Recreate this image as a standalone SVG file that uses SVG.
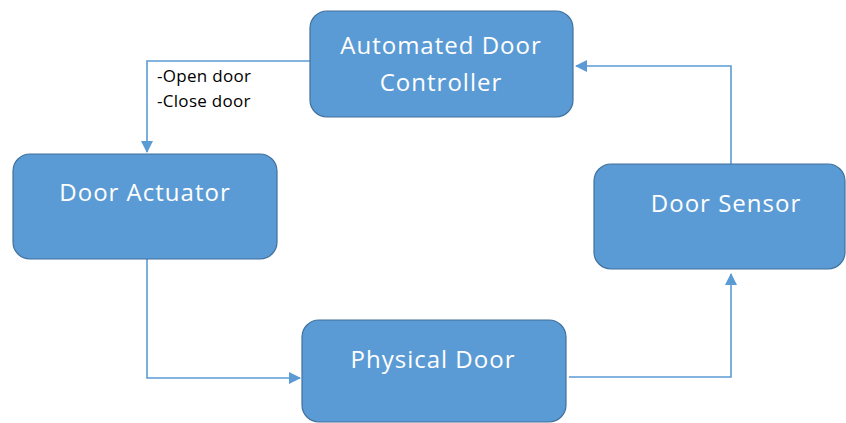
<svg xmlns="http://www.w3.org/2000/svg" width="846" height="423" viewBox="0 0 846 423">
  <style>
    .box { fill: #5B9BD5; stroke: #41719C; stroke-width: 1.2; }
    .label { font-family: "Open Sans", Lato, sans-serif; font-size: 24px; letter-spacing: 1px; fill: #FFFFFF; text-anchor: middle; }
    .note { font-family: "Open Sans", Lato, sans-serif; font-size: 17px; letter-spacing: 0.3px; fill: #000000; }
    .link { fill: none; stroke: #5B9BD5; stroke-width: 1.6; }
  </style>
  <defs>
    <marker id="arrow" viewBox="0 0 12 12" refX="11" refY="6" markerWidth="12" markerHeight="12" markerUnits="userSpaceOnUse" orient="auto">
      <path d="M0,0 L12,6 L0,12 Z" fill="#5B9BD5"/>
    </marker>
  </defs>
  <rect width="846" height="423" fill="#FFFFFF"/>

  <g id="connectors">
    <!-- Controller -> Actuator -->
    <polyline class="link" points="310,61 147,61 147,152" marker-end="url(#arrow)"/>
    <!-- Actuator -> Physical Door -->
    <polyline class="link" points="147,259 147,378 300,378" marker-end="url(#arrow)"/>
    <!-- Physical Door -> Sensor -->
    <polyline class="link" points="569,377 731,377 731,274" marker-end="url(#arrow)"/>
    <!-- Sensor -> Controller -->
    <polyline class="link" points="731,164 731,66 576,66" marker-end="url(#arrow)"/>
  </g>

  <g id="controller">
    <rect class="box" x="310" y="11" width="263" height="106" rx="17"/>
    <text class="label" x="441" y="54">Automated Door</text>
    <text class="label" x="441" y="91">Controller</text>
  </g>

  <g id="actuator">
    <rect class="box" x="13" y="154" width="264" height="105" rx="17"/>
    <text class="label" x="145" y="201">Door Actuator</text>
  </g>

  <g id="physical-door">
    <rect class="box" x="302" y="320" width="264" height="102" rx="17"/>
    <text class="label" x="433" y="368">Physical Door</text>
  </g>

  <g id="sensor">
    <rect class="box" x="594" y="164" width="251" height="105" rx="17"/>
    <text class="label" x="726" y="212">Door Sensor</text>
  </g>

  <g id="command-label">
    <text class="note" x="157" y="82">-Open door</text>
    <text class="note" x="157" y="107">-Close door</text>
  </g>
</svg>
